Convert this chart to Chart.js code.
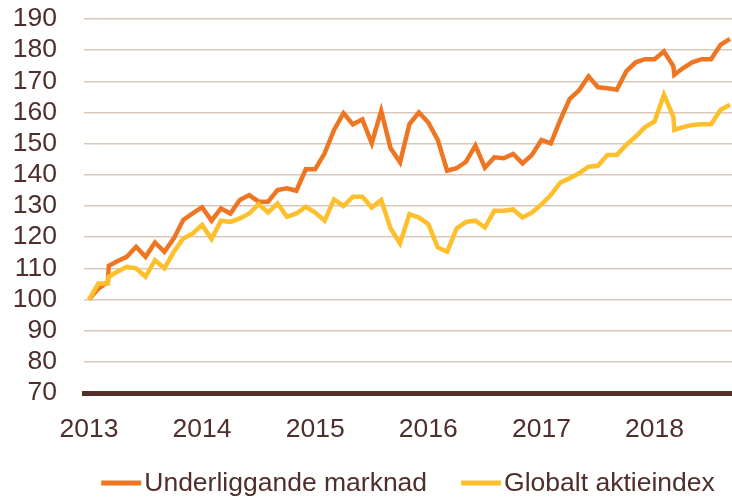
<!DOCTYPE html>
<html>
<head>
<meta charset="utf-8">
<script src="https://cdn.jsdelivr.net/npm/chart.js@4/dist/chart.umd.min.js"></script>
<style>
  html, body { margin: 0; padding: 0; background: #fff; }
</style>
</head>
<body>
<canvas id="indexChart" width="732" height="499"></canvas>
<script>
// months since Jan 2013 (two extra points where the series jump)
const months = [
  0, 1, 2, 2.1, 3, 4, 5, 6, 7, 8, 9, 10, 11,
  12, 13, 14, 15, 16, 17, 18, 19, 20, 21, 22, 23,
  24, 25, 26, 27, 28, 29, 30, 31, 32, 33, 34, 35,
  36, 37, 38, 39, 40, 41, 42, 43, 44, 45, 46, 47,
  48, 49, 50, 51, 52, 53, 54, 55, 56, 57, 58, 59,
  60, 61, 62, 62.1, 63, 64, 65, 66, 67, 68
];

const underliggande = [
  100, 103.5, 105.6, 110.8, 112.3, 113.7, 116.9, 113.7, 118.3, 115.3, 119.6, 125.5, 127.6,
  129.6, 125.3, 129.2, 127.6, 131.9, 133.5, 131.4, 131.4, 135.1, 135.7, 134.9, 141.8,
  141.8, 146.9, 154.4, 159.8, 156.2, 157.8, 150.1, 160.5, 148.5, 144, 156.3, 160,
  156.8, 151.2, 141.3, 142.1, 144.2, 149.4, 142.3, 145.6, 145.3, 146.7, 143.7, 146.4,
  151.2, 150.1, 157.6, 164.4, 167.1, 171.6, 168.1, 167.8, 167.3, 173.2, 176.1, 177.1,
  177.1, 179.6, 174.8, 172.1, 174.2, 176.1, 177.1, 177.1, 181.7, 183.6
];

const globalt = [
  100, 105.1, 105.1, 107.3, 108.9, 110.5, 110.0, 107.3, 112.6, 110, 115.3, 119.6, 121.2,
  123.9, 119.4, 125.3, 124.9, 126, 127.6, 130.6, 127.9, 130.8, 126.5, 127.6, 129.8,
  127.9, 125.3, 132.1, 130, 133, 133, 129.5, 131.9, 122.8, 118, 127.4, 126.3,
  124.2, 116.7, 115.3, 122.8, 124.9, 125.3, 123.1, 128.5, 128.5, 128.9, 126.3, 127.9,
  130.5, 133.5, 137.5, 138.9, 140.5, 142.6, 142.9, 146.4, 146.4, 149.6, 152.3, 155.3,
  157.1, 165.7, 158.7, 154.4, 155.3, 156, 156.2, 156.2, 160.8, 162.5
];

const yearTicks = [0, 12, 24, 36, 48, 60];
const yearLabels = ["2013", "2014", "2015", "2016", "2017", "2018"];
const seriesNames = ["Underliggande marknad", "Globalt aktieindex"];
const seriesColors = ["#ee7623", "#fdbf2b"];

const fontFamily = "'Liberation Sans', Arial, sans-serif";
const fontSize = 26.5;
const textColor = "#4e2f2c";

// legend drawn under the axis: short thick line right against the text
const bottomLegend = {
  id: "bottomLegend",
  afterDraw(chart) {
    const ctx = chart.ctx;
    const area = chart.chartArea;
    ctx.save();
    ctx.font = fontSize + "px " + fontFamily;
    ctx.textBaseline = "middle";
    const lineW = 40, gap = 3, itemGap = 34;
    const widths = seriesNames.map(n => lineW + gap + ctx.measureText(n).width);
    const total = widths.reduce((a, b) => a + b, 0) + itemGap * (widths.length - 1);
    let x = (area.left + area.right) / 2 - total / 2;
    const y = 483;
    seriesNames.forEach((name, i) => {
      ctx.fillStyle = seriesColors[i];
      ctx.fillRect(x, y - 2.5, lineW, 5);
      ctx.fillStyle = textColor;
      ctx.fillText(name, x + lineW + gap, y + 1);
      x += widths[i] + itemGap;
    });
    ctx.restore();
  }
};

const ctx = document.getElementById("indexChart").getContext("2d");

new Chart(ctx, {
  type: "line",
  data: {
    datasets: [
      {
        label: seriesNames[0],
        data: months.map((m, i) => ({ x: m, y: underliggande[i] })),
        borderColor: seriesColors[0],
        borderWidth: 4.5,
        pointRadius: 0,
        tension: 0,
        order: 1,
      },
      {
        label: seriesNames[1],
        data: months.map((m, i) => ({ x: m, y: globalt[i] })),
        borderColor: seriesColors[1],
        borderWidth: 4.5,
        pointRadius: 0,
        tension: 0,
        order: 0,
      },
    ],
  },
  options: {
    responsive: false,
    animation: false,
    layout: { padding: 0 },
    scales: {
      x: {
        type: "linear",
        min: -0.53,
        max: 68.22,
        grid: { color: "rgba(0,0,0,0)", drawTicks: false },
        border: { display: true, color: "#54302c", width: 5 },
        afterBuildTicks: (scale) => {
          scale.ticks = yearTicks.map(v => ({ value: v }));
        },
        afterFit: (scale) => { scale.height = 106; },
        ticks: {
          autoSkip: false,
          maxRotation: 0,
          padding: 21,
          color: textColor,
          font: { family: fontFamily, size: fontSize },
          callback: (v) => yearLabels[yearTicks.indexOf(v)],
        },
      },
      y: {
        min: 70,
        max: 190,
        grid: { color: "#dcc8b8", lineWidth: 1.5, drawTicks: false },
        border: { display: false },
        // fixed axis width; the tick padding would otherwise also push the top down
        afterFit: (scale) => {
          scale.width = 84;
          scale.paddingTop = 19;
          scale.paddingBottom = 0;
        },
        ticks: {
          stepSize: 10,
          autoSkip: false,
          padding: 27,
          color: textColor,
          font: { family: fontFamily, size: fontSize },
        },
      },
    },
    plugins: {
      legend: { display: false },
      tooltip: { enabled: false },
    },
  },
  plugins: [bottomLegend],
});
</script>
</body>
</html>
